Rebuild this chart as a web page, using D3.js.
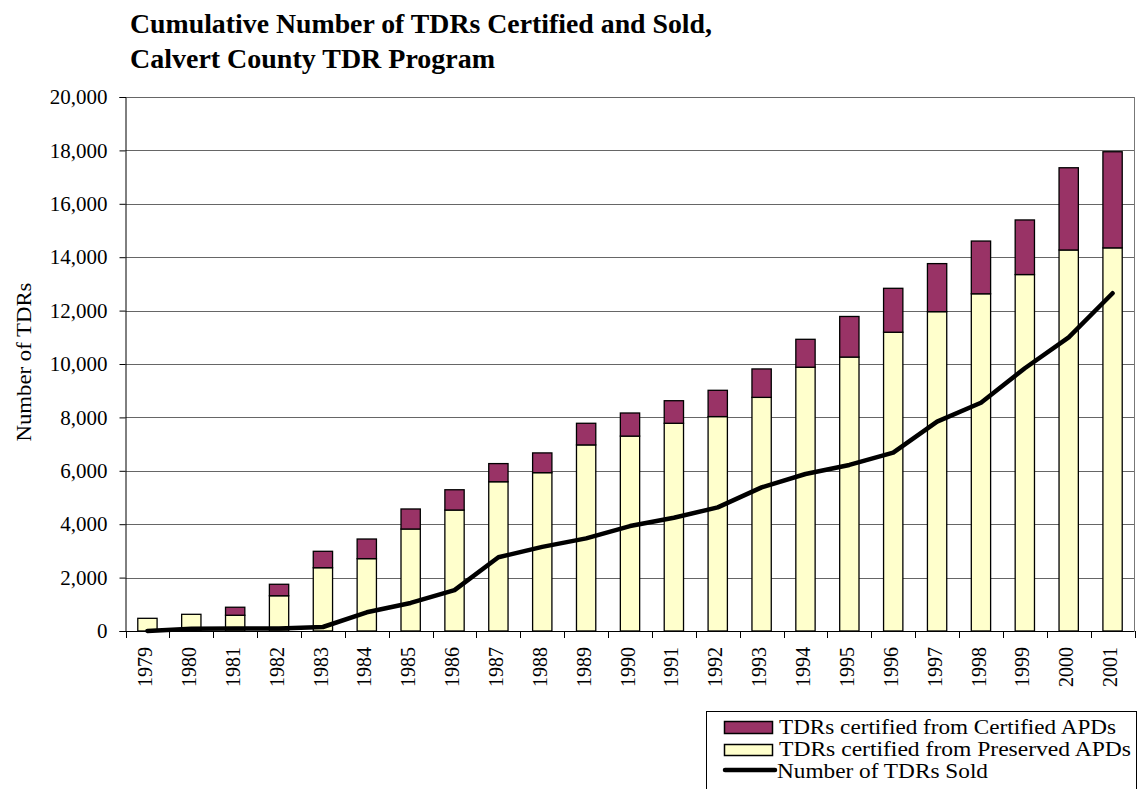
<!DOCTYPE html>
<html>
<head>
<meta charset="utf-8">
<script src="https://cdn.jsdelivr.net/npm/d3@7/dist/d3.min.js"></script>
<style>
  html, body { margin: 0; padding: 0; background: #fff; }
  svg { display: block; }
  svg text { font-family: "Liberation Serif", "Times New Roman", serif; }
</style>
</head>
<body>
<svg id="chart" width="1142" height="789"></svg>
<script>
// ---- data ----
const years = ["1979","1980","1981","1982","1983","1984","1985","1986","1987","1988","1989","1990",
               "1991","1992","1993","1994","1995","1996","1997","1998","1999","2000","2001"];
const preservedAPDs = [475, 625, 590, 1320, 2370, 2710, 3820, 4530, 5590, 5930, 6970, 7300,
                       7780, 8030, 8750, 9880, 10260, 11190, 11960, 12630, 13350, 14270, 14350];
const certifiedAPDs = [0, 0, 300, 430, 615, 735, 750, 760, 680, 740, 810, 865,
                       845, 985, 1065, 1045, 1520, 1645, 1800, 1975, 2045, 3080, 3600];
const tdrsSold = [0, 80, 90, 90, 150, 700, 1050, 1530, 2760, 3150, 3470, 3930,
                  4240, 4630, 5380, 5880, 6220, 6680, 7840, 8550, 9840, 11000, 12650];
const yTicks = [0, 2000, 4000, 6000, 8000, 10000, 12000, 14000, 16000, 18000, 20000];
const titleLines = ["Cumulative Number of TDRs Certified and Sold,", "Calvert County TDR Program"];
const yAxisTitle = "Number of TDRs";
const legendLabels = ["TDRs certified from Certified APDs", "TDRs certified from Preserved APDs", "Number of TDRs Sold"];

const colCertified = "#993366";
const colPreserved = "#FFFFCC";
const FONT = "Liberation Serif, Times New Roman, serif";

const svg = d3.select("#chart");
const L = 125.5, R = 1134.5, T = 97, B = 631;

const x = d3.scaleBand().domain(years).range([L, R]).paddingInner(0.56).paddingOuter(0.28);
const xStep = d3.scaleBand().domain(years).range([L, R]).padding(0);
const y = d3.scaleLinear().domain([0, 20000]).range([B, T]);

// title
svg.append("text").attr("x", 130).attr("y", 33).attr("font-family", FONT)
  .attr("font-size", 27).attr("font-weight", "bold")
  .attr("textLength", 582).attr("lengthAdjust", "spacingAndGlyphs")
  .text(titleLines[0]);
svg.append("text").attr("x", 130).attr("y", 68).attr("font-family", FONT)
  .attr("font-size", 27).attr("font-weight", "bold")
  .attr("textLength", 365).attr("lengthAdjust", "spacingAndGlyphs")
  .text(titleLines[1]);

// gridlines
svg.append("g").selectAll("line").data(yTicks.filter(d => d > 0)).join("line")
  .attr("x1", L).attr("x2", R)
  .attr("y1", d => Math.round(y(d)) + 0.5).attr("y2", d => Math.round(y(d)) + 0.5)
  .attr("stroke", "#666").attr("stroke-width", 1);
// right border
svg.append("line").attr("x1", R).attr("x2", R).attr("y1", T).attr("y2", B)
  .attr("stroke", "#777").attr("stroke-width", 1);

// y axis
const yAxis = svg.append("g").attr("transform", `translate(${L},0)`)
  .call(d3.axisLeft(y).tickValues(yTicks).tickSize(6).tickPadding(12).tickFormat(d3.format(",")));
yAxis.attr("font-family", FONT);
yAxis.selectAll("text").attr("font-size", 21).attr("fill", "#000").attr("font-family", FONT);
yAxis.selectAll("line, path").attr("stroke", "#000");

// y axis title
svg.append("text").attr("transform", "translate(31,362) rotate(-90)").attr("font-family", FONT)
  .attr("text-anchor", "middle").attr("font-size", 22)
  .attr("textLength", 159).attr("lengthAdjust", "spacingAndGlyphs")
  .text(yAxisTitle);

// bars
const gBars = svg.append("g");
years.forEach((yr, i) => {
  const p = preservedAPDs[i], c = certifiedAPDs[i];
  gBars.append("rect")
    .attr("x", x(yr)).attr("width", x.bandwidth())
    .attr("y", y(p)).attr("height", y(0) - y(p))
    .attr("fill", colPreserved).attr("stroke", "#000").attr("stroke-width", 1.3);
  if (c > 0) {
    gBars.append("rect")
      .attr("x", x(yr)).attr("width", x.bandwidth())
      .attr("y", y(p + c)).attr("height", y(p) - y(p + c))
      .attr("fill", colCertified).attr("stroke", "#000").attr("stroke-width", 1.3);
  }
});

// x axis
const xAxis = svg.append("g").attr("transform", `translate(0,${B})`);
xAxis.append("line").attr("x1", L).attr("x2", R).attr("y1", 0.5).attr("y2", 0.5).attr("stroke", "#000");
const bounds = years.map(d => xStep(d)).concat([R]);
xAxis.selectAll("line.tick").data(bounds).join("line").attr("class", "tick")
  .attr("x1", d => Math.round(d) + 0.5).attr("x2", d => Math.round(d) + 0.5)
  .attr("y1", 0).attr("y2", 7).attr("stroke", "#000");
xAxis.selectAll("text").data(years).join("text")
  .attr("transform", d => `translate(${xStep(d) + xStep.bandwidth() / 2},16) rotate(-90)`)
  .attr("font-family", FONT)
  .attr("text-anchor", "end").attr("dy", "0.23em").attr("font-size", 20)
  .text(d => d);

// line
const line = d3.line().x((d, i) => xStep(years[i]) + xStep.bandwidth() / 2).y(d => y(d));
svg.append("path").datum(tdrsSold).attr("d", line)
  .attr("fill", "none").attr("stroke", "#000").attr("stroke-width", 4.5)
  .attr("stroke-linejoin", "round").attr("stroke-linecap", "round");

// legend
const lg = svg.append("g");
lg.append("rect").attr("x", 706.5).attr("y", 711.5).attr("width", 430).attr("height", 100)
  .attr("fill", "#fff").attr("stroke", "#000").attr("stroke-width", 1);
lg.append("rect").attr("x", 724.5).attr("y", 721.5).attr("width", 48).attr("height", 12)
  .attr("fill", colCertified).attr("stroke", "#000").attr("stroke-width", 1.5);
lg.append("rect").attr("x", 724.5).attr("y", 744.5).attr("width", 48).attr("height", 11)
  .attr("fill", colPreserved).attr("stroke", "#000").attr("stroke-width", 1.5);
lg.append("line").attr("x1", 725).attr("x2", 775).attr("y1", 770).attr("y2", 770)
  .attr("stroke", "#000").attr("stroke-width", 4.5).attr("stroke-linecap", "round");
const lgY = [734, 756, 778];
const lgW = [337, 352, 211];
legendLabels.forEach((t, i) => {
  lg.append("text").attr("x", i === 2 ? 777 : 779).attr("y", lgY[i]).attr("font-family", FONT)
    .attr("font-size", 21).attr("textLength", lgW[i]).attr("lengthAdjust", "spacingAndGlyphs")
    .text(t);
});
</script>
</body>
</html>
